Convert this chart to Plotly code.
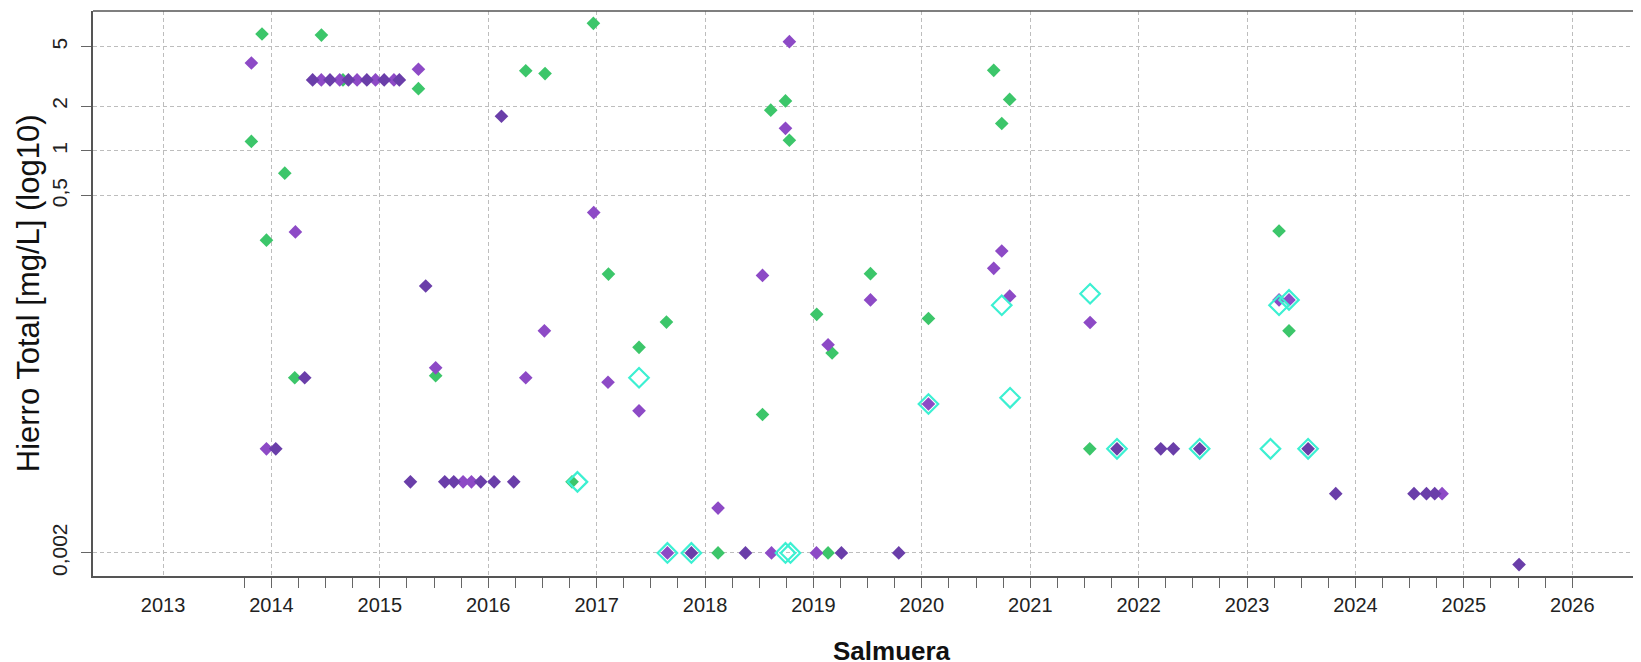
import plotly.graph_objects as go

# decimal years / mg/L
green_x = [2013.815, 2013.913, 2013.954, 2014.123, 2014.215, 2014.461, 2014.66, 2015.356, 2015.515,
           2016.346, 2016.524, 2016.773, 2016.97, 2017.109, 2017.391, 2017.644, 2018.12, 2018.53,
           2018.606, 2018.742, 2018.778, 2019.03, 2019.135, 2019.172, 2019.526, 2020.061, 2020.663,
           2020.737, 2020.81, 2021.549, 2023.295, 2023.387]
green_y = [1.16, 6.1, 0.252, 0.71, 0.03, 6.0, 3.0, 2.62, 0.031,
           3.46, 3.31, 0.006, 7.2, 0.149, 0.048, 0.071, 0.002, 0.017,
           1.88, 2.17, 1.18, 0.08, 0.002, 0.044, 0.15, 0.075, 3.48,
           1.53, 2.22, 0.01, 0.29, 0.062]

purple_x = [2013.815, 2013.954, 2014.221, 2014.46, 2014.63, 2014.79, 2014.96, 2015.13, 2015.356,
            2015.515, 2015.768, 2015.845, 2016.346, 2016.518, 2016.973, 2017.105, 2017.391, 2017.653,
            2018.12, 2018.53, 2018.613, 2018.742, 2018.778, 2019.028, 2019.135, 2019.526, 2020.061,
            2020.663, 2020.737, 2020.81, 2021.552, 2023.295, 2023.387, 2024.799]
purple_y = [3.9, 0.01, 0.286, 3, 3, 3, 3, 3, 3.54,
            0.035, 0.006, 0.006, 0.030, 0.062, 0.386, 0.028, 0.018, 0.002,
            0.004, 0.146, 0.002, 1.42, 5.42, 0.002, 0.05, 0.1, 0.02,
            0.163, 0.213, 0.106, 0.0705, 0.1, 0.1, 0.005]

dark_x = [2014.04, 2014.307, 2014.38, 2014.54, 2014.71, 2014.88, 2015.04, 2015.18, 2015.282,
          2015.423, 2015.599, 2015.682, 2015.931, 2016.054, 2016.122, 2016.235, 2017.874, 2018.373,
          2019.258, 2019.787, 2021.8, 2022.204, 2022.32, 2022.563, 2023.563, 2023.818, 2024.54,
          2024.655, 2024.731, 2025.509]
dark_y = [0.01, 0.03, 3, 3, 3, 3, 3, 3, 0.006,
          0.124, 0.006, 0.006, 0.006, 0.006, 1.71, 0.006, 0.002, 0.002,
          0.002, 0.002, 0.01, 0.01, 0.01, 0.01, 0.01, 0.005, 0.005,
          0.005, 0.005, 0.00167]

cyan_x = [2016.823, 2017.391, 2017.653, 2017.874, 2018.742, 2018.788, 2020.061, 2020.737, 2020.814,
          2021.552, 2021.8, 2022.563, 2023.216, 2023.295, 2023.387, 2023.563]
cyan_y = [0.006, 0.030, 0.002, 0.002, 0.002, 0.002, 0.02, 0.092, 0.022,
          0.11, 0.01, 0.01, 0.01, 0.092, 0.1, 0.01]

years = list(range(2013, 2027))
y_ticks = [0.002, 0.5, 1, 2, 5]
y_labels = ["0,002", "0,5", "1", "2", "5"]

FONT = "Liberation Sans, Arial, sans-serif"

fig = go.Figure()
fig.add_trace(go.Scatter(x=green_x, y=green_y, mode="markers",
                         marker=dict(symbol="diamond", size=10.5, color="#3cc66a", line=dict(width=0))))
fig.add_trace(go.Scatter(x=purple_x, y=purple_y, mode="markers",
                         marker=dict(symbol="diamond", size=10.5, color="#8d4ac6", line=dict(width=0))))
fig.add_trace(go.Scatter(x=dark_x, y=dark_y, mode="markers",
                         marker=dict(symbol="diamond", size=10.5, color="#6a3ea9", line=dict(width=0))))
fig.add_trace(go.Scatter(x=cyan_x, y=cyan_y, mode="markers",
                         marker=dict(symbol="diamond-open", size=15, color="#3cf0d2", line=dict(width=2.2))))

# quarterly tick marks under the axis, 2013.75 .. 2026
quarters = [2013.75 + 0.25 * i for i in range(50)]

fig.update_xaxes(range=[2012.354, 2026.634], tickvals=years, ticktext=[str(y) for y in years],
                 ticks="outside", ticklen=10, tickcolor="rgba(0,0,0,0)",
                 tickfont=dict(family=FONT, size=20, color="#222"),
                 showgrid=True, gridcolor="#bdbdbd", griddash="4px,3px", gridwidth=1,
                 minor=dict(tickvals=quarters, ticks="outside", ticklen=10, tickcolor="#666", showgrid=False),
                 showline=True, linecolor="#555", linewidth=1.5, zeroline=False)
fig.update_yaxes(type="log", range=[-2.854, 0.94], tickvals=y_ticks, ticktext=y_labels,
                 tickangle=-90, ticks="outside", ticklen=10, tickcolor="#666", ticklabelstandoff=6,
                 tickfont=dict(family=FONT, size=21, color="#222"),
                 showgrid=True, gridcolor="#bdbdbd", griddash="4px,3px", gridwidth=1,
                 showline=True, linecolor="#555", linewidth=1.5, zeroline=False)

# top border of the frame (right side is cut off in the original)
fig.add_shape(type="line", xref="paper", yref="paper", x0=0, x1=1, y0=1, y1=1,
              line=dict(color="#555", width=1.5))

fig.add_annotation(text="Hierro Total [mg/L] (log10)", xref="paper", yref="paper",
                   x=-0.0415, y=0.5, xanchor="center", yanchor="middle", textangle=-90,
                   showarrow=False, font=dict(family=FONT, size=31, color="#111"))
fig.add_annotation(text="<b>Salmuera</b>", xref="paper", yref="paper",
                   x=0.5159, y=-0.1327, xanchor="center", yanchor="middle",
                   showarrow=False, font=dict(family=FONT, size=26, color="#111"))

# page body has an 8px margin, so the figure is 8px smaller than the window
fig.update_layout(width=1633, height=654, showlegend=False,
                  plot_bgcolor="white", paper_bgcolor="white",
                  margin=dict(l=85, r=0, t=3, b=86))

fig.write_html("out.html")
